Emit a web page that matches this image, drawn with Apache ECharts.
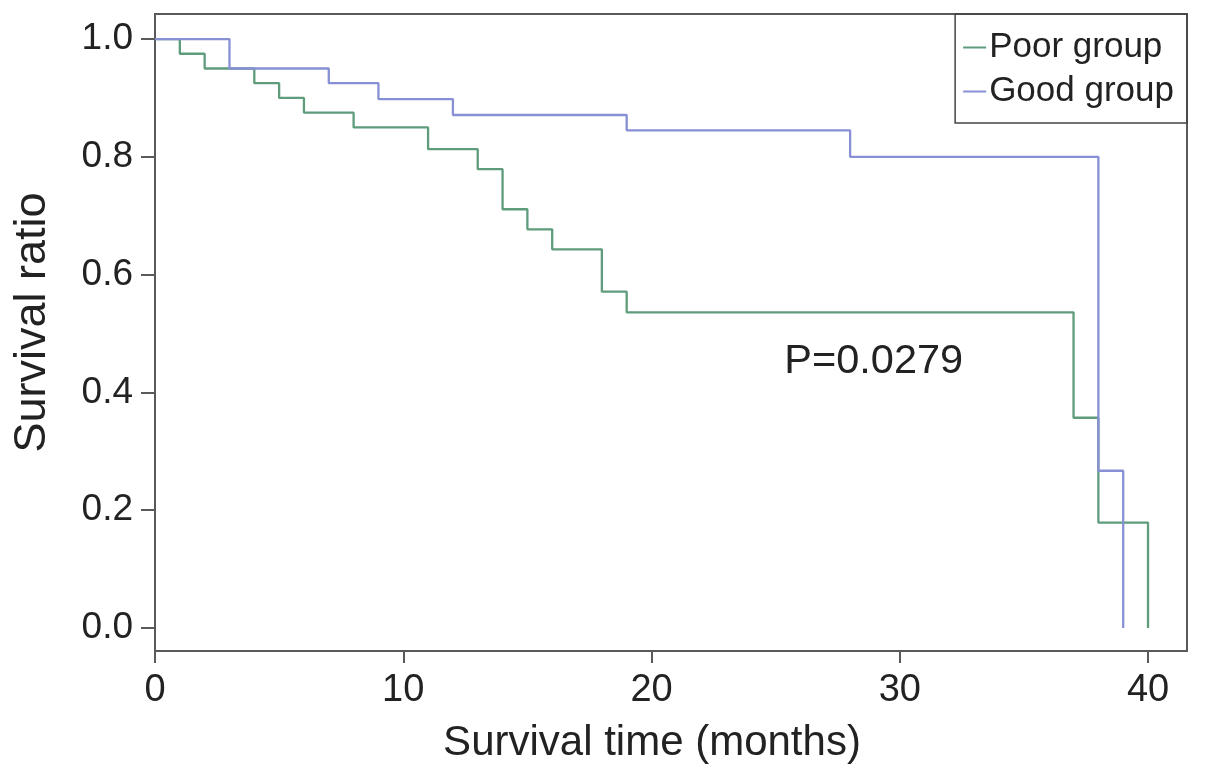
<!DOCTYPE html>
<html>
<head>
<meta charset="utf-8">
<script src="https://cdn.jsdelivr.net/npm/echarts@6/dist/echarts.min.js"></script>
<style>
html,body{margin:0;padding:0;background:#fff;}
#chart{width:1205px;height:777px;}
</style>
</head>
<body>
<div id="chart"></div>
<script>
// Kaplan-Meier step data: [time (months), survival ratio]
const poorTimes = [0, 1, 2, 4, 5, 6, 8, 11, 13, 14, 15, 16, 18, 19, 37, 38, 40];
const poorSurv  = [1.0, 0.975, 0.95, 0.925, 0.9, 0.875, 0.85, 0.813, 0.779, 0.711, 0.677, 0.643, 0.571, 0.536, 0.357, 0.179, 0.0];
const goodTimes = [0, 3, 7, 9, 12, 19, 28, 38, 39];
const goodSurv  = [1.0, 0.95, 0.925, 0.898, 0.871, 0.845, 0.80, 0.267, 0.0];
const seriesNames = ['Poor group', 'Good group'];
const xTicks = [0, 10, 20, 30, 40];
const yTicks = [0, 0.2, 0.4, 0.6, 0.8, 1.0];
const pValueText = 'P=0.0279';
const pValuePos = [25.35, 0.452];

const FONT = '"Liberation Sans", Arial, Helvetica, sans-serif';
const chart = echarts.init(document.getElementById('chart'));
const zip = (xs, ys) => xs.map((x, i) => [x, ys[i]]);

chart.setOption({
  animation: false,
  backgroundColor: '#fff',
  grid: {left: 155, right: 18, top: 14, bottom: 126, show: true, borderColor: '#5a5a5a', borderWidth: 2},
  legend: {
    orient: 'vertical', right: 18, top: 14,
    data: seriesNames,
    borderColor: '#444', borderWidth: 1.5,
    padding: [16, 13, 14, 8],
    itemGap: 9, itemWidth: 23, itemHeight: 2,
    icon: 'rect',
    textStyle: {fontFamily: FONT, fontSize: 35, color: '#222', padding: [0, 0, 0, -2], lineHeight: 35}
  },
  xAxis: {
    type: 'value', min: 0, max: 41.57,
    name: 'Survival time (months)', nameLocation: 'middle', nameGap: 71,
    nameTextStyle: {fontFamily: FONT, fontSize: 42, color: '#222', padding: [0, 38, 0, 0]},
    axisLine: {show: true, onZero: false, lineStyle: {color: '#5a5a5a', width: 2}},
    axisTick: {show: true, length: 12, lineStyle: {color: '#5a5a5a', width: 2}, customValues: xTicks},
    axisLabel: {fontFamily: FONT, fontSize: 38, color: '#222', margin: 21, customValues: xTicks},
    splitLine: {show: false}
  },
  yAxis: {
    type: 'value', min: -0.039, max: 1.0425,
    name: 'Survival ratio', nameLocation: 'middle', nameGap: 100,
    nameTextStyle: {fontFamily: FONT, fontSize: 45, color: '#222', padding: [0, 0, 0, 20]},
    axisLine: {show: true, onZero: false, lineStyle: {color: '#5a5a5a', width: 2}},
    axisTick: {show: true, length: 14, lineStyle: {color: '#5a5a5a', width: 2}, customValues: yTicks},
    axisLabel: {fontFamily: FONT, fontSize: 37, color: '#222', margin: 22, customValues: yTicks,
      formatter: v => v.toFixed(1)},
    splitLine: {show: false}
  },
  series: [
    {name: seriesNames[0], type: 'line', step: 'end', data: zip(poorTimes, poorSurv),
     showSymbol: false, symbol: 'none', lineStyle: {color: '#5e9c7c', width: 2.3}, itemStyle: {color: '#5e9c7c'}},
    {name: seriesNames[1], type: 'line', step: 'end', data: zip(goodTimes, goodSurv),
     showSymbol: false, symbol: 'none', lineStyle: {color: '#8790d4', width: 2.3}, itemStyle: {color: '#8790d4'}}
  ]
});

const p = chart.convertToPixel({gridIndex: 0}, pValuePos);
chart.setOption({
  graphic: [{type: 'text', x: p[0], y: p[1],
    style: {text: pValueText, fontFamily: FONT, fontSize: 41.5, fill: '#222', textAlign: 'left', textVerticalAlign: 'middle'}}]
});
</script>
</body>
</html>
